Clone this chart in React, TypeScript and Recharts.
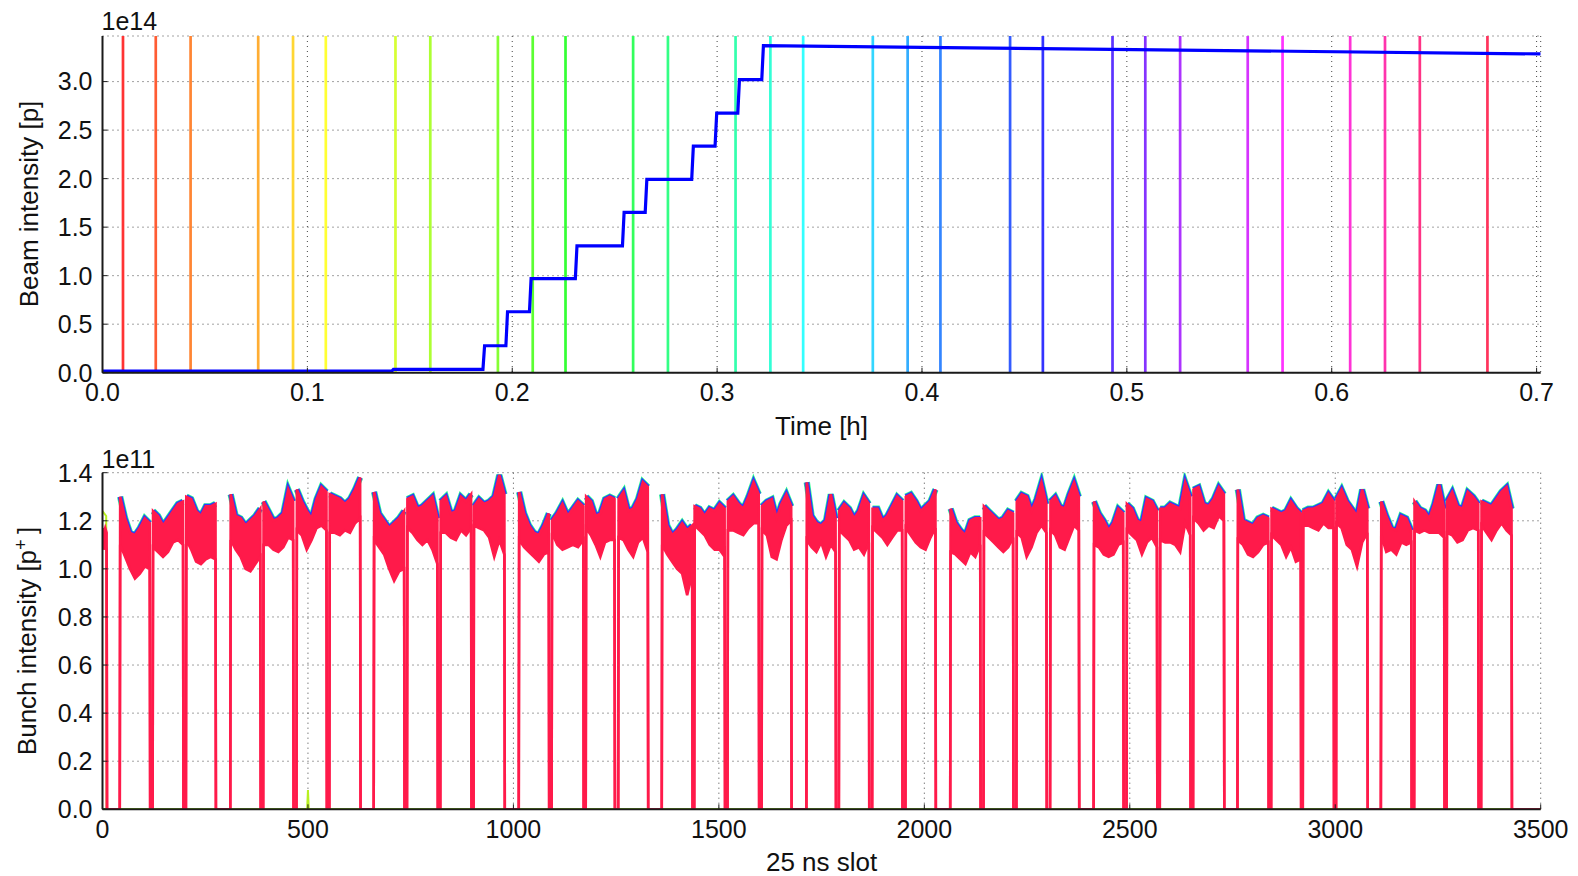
import React from 'react';
import { ComposedChart, Line, Area, XAxis, YAxis, CartesianGrid, ReferenceLine } from 'recharts';

// ---- top panel: beam intensity vs time ----
// times (h) of the bunch-by-bunch snapshots (coloured vertical lines)
const snapshotTimes = [
  0.010, 0.026, 0.043, 0.076, 0.093, 0.109, 0.143, 0.160, 0.193, 0.210,
  0.226, 0.259, 0.276, 0.309, 0.326, 0.342, 0.376, 0.393, 0.409, 0.443,
  0.459, 0.493, 0.509, 0.526, 0.559, 0.576, 0.609, 0.626, 0.643, 0.676,
];

// total beam intensity, units of 1e14 p
const beamTime = [
  0, 0.1412, 0.1420, 0.1857, 0.1865, 0.1969, 0.1977, 0.2084, 0.2092, 0.2308,
  0.2316, 0.2538, 0.2546, 0.2649, 0.2657, 0.2876, 0.2884, 0.2990, 0.2998, 0.3101,
  0.3109, 0.3218, 0.3226, 0.40, 0.47, 0.58, 0.702,
];
const beamIntensity = [
  0.017, 0.017, 0.034, 0.034, 0.278, 0.278, 0.628, 0.628, 0.970, 0.970,
  1.307, 1.307, 1.653, 1.653, 1.992, 1.992, 2.335, 2.335, 2.675, 2.675,
  3.021, 3.021, 3.371, 3.352, 3.337, 3.313, 3.285,
];

const timeTicks = [0, 0.1, 0.2, 0.3, 0.4, 0.5, 0.6, 0.7];
const beamTicks = [0, 0.5, 1.0, 1.5, 2.0, 2.5, 3.0];

// ---- bottom panel: bunch intensity vs 25 ns slot (units of 1e11 p) ----
const trainStart = [
  0, 43, 123, 204, 312, 392, 473, 553, 661, 742,
  823, 904, 1014, 1094, 1177, 1256, 1362, 1441, 1522, 1605,
  1714, 1793, 1874, 1955, 2064, 2145, 2225, 2307, 2413, 2493,
  2574, 2655, 2763, 2845, 2922, 3003, 3112, 3193, 3272, 3356,
];
const trainEnd = [
  10, 115, 196, 275, 384, 464, 545, 627, 734, 815,
  897, 978, 1086, 1170, 1246, 1327, 1435, 1514, 1597, 1676,
  1784, 1865, 1946, 2027, 2136, 2216, 2297, 2376, 2484, 2566,
  2647, 2729, 2837, 2916, 2996, 3078, 3185, 3265, 3348, 3429,
];
// upper and lower envelope of the bunch-to-bunch spread, 7 readings per train
const trainHigh = [
  [1.17, 1.16, 1.15, 1.16, 1.17, 1.16, 1.15],
  [1.30, 1.21, 1.15, 1.14, 1.17, 1.21, 1.19],
  [1.24, 1.22, 1.18, 1.21, 1.24, 1.27, 1.28],
  [1.30, 1.29, 1.24, 1.22, 1.26, 1.26, 1.27],
  [1.31, 1.22, 1.21, 1.18, 1.20, 1.22, 1.25],
  [1.28, 1.24, 1.20, 1.21, 1.23, 1.33, 1.28],
  [1.33, 1.28, 1.24, 1.21, 1.29, 1.34, 1.32],
  [1.31, 1.30, 1.29, 1.27, 1.29, 1.33, 1.38],
  [1.32, 1.23, 1.20, 1.17, 1.19, 1.21, 1.24],
  [1.29, 1.30, 1.25, 1.26, 1.28, 1.30, 1.21],
  [1.28, 1.30, 1.23, 1.24, 1.30, 1.28, 1.31],
  [1.26, 1.29, 1.27, 1.28, 1.30, 1.39, 1.31],
  [1.32, 1.23, 1.18, 1.15, 1.14, 1.18, 1.23],
  [1.20, 1.23, 1.27, 1.22, 1.25, 1.28, 1.26],
  [1.30, 1.28, 1.22, 1.23, 1.29, 1.30, 1.29],
  [1.29, 1.32, 1.24, 1.25, 1.29, 1.36, 1.34],
  [1.31, 1.18, 1.14, 1.16, 1.19, 1.16, 1.18],
  [1.26, 1.25, 1.22, 1.25, 1.24, 1.27, 1.25],
  [1.28, 1.30, 1.27, 1.25, 1.30, 1.36, 1.31],
  [1.26, 1.28, 1.29, 1.21, 1.27, 1.31, 1.26],
  [1.36, 1.22, 1.19, 1.18, 1.20, 1.31, 1.21],
  [1.24, 1.27, 1.25, 1.21, 1.24, 1.30, 1.27],
  [1.25, 1.25, 1.20, 1.22, 1.26, 1.30, 1.28],
  [1.30, 1.31, 1.28, 1.24, 1.26, 1.28, 1.33],
  [1.25, 1.19, 1.16, 1.14, 1.20, 1.21, 1.21],
  [1.26, 1.24, 1.22, 1.20, 1.21, 1.24, 1.23],
  [1.28, 1.31, 1.30, 1.24, 1.29, 1.36, 1.27],
  [1.28, 1.30, 1.26, 1.25, 1.31, 1.36, 1.30],
  [1.28, 1.23, 1.20, 1.16, 1.19, 1.25, 1.23],
  [1.27, 1.25, 1.20, 1.19, 1.29, 1.28, 1.24],
  [1.25, 1.25, 1.27, 1.26, 1.25, 1.36, 1.30],
  [1.33, 1.34, 1.27, 1.26, 1.29, 1.34, 1.31],
  [1.33, 1.20, 1.19, 1.18, 1.21, 1.22, 1.21],
  [1.25, 1.24, 1.23, 1.24, 1.28, 1.25, 1.23],
  [1.24, 1.25, 1.25, 1.26, 1.27, 1.31, 1.28],
  [1.29, 1.33, 1.28, 1.25, 1.22, 1.33, 1.25],
  [1.28, 1.22, 1.17, 1.16, 1.22, 1.21, 1.16],
  [1.28, 1.25, 1.24, 1.21, 1.27, 1.35, 1.25],
  [1.28, 1.32, 1.26, 1.25, 1.32, 1.30, 1.27],
  [1.28, 1.27, 1.26, 1.29, 1.32, 1.34, 1.25],
];
const trainLow = [
  [1.09, 1.10, 1.08, 1.09, 1.10, 1.09, 1.08],
  [1.10, 1.05, 1.00, 0.96, 0.98, 1.01, 1.00],
  [1.09, 1.07, 1.05, 1.07, 1.11, 1.12, 1.10],
  [1.12, 1.08, 1.03, 1.02, 1.04, 1.05, 1.04],
  [1.12, 1.08, 1.05, 1.00, 0.99, 1.02, 1.05],
  [1.10, 1.10, 1.08, 1.07, 1.09, 1.13, 1.12],
  [1.16, 1.14, 1.08, 1.12, 1.17, 1.18, 1.16],
  [1.15, 1.15, 1.14, 1.16, 1.15, 1.19, 1.21],
  [1.12, 1.09, 1.06, 1.00, 0.95, 0.99, 1.00],
  [1.17, 1.15, 1.12, 1.10, 1.12, 1.08, 1.02],
  [1.15, 1.15, 1.13, 1.12, 1.16, 1.14, 1.17],
  [1.18, 1.17, 1.16, 1.13, 1.05, 1.12, 1.06],
  [1.12, 1.09, 1.07, 1.05, 1.03, 1.06, 1.07],
  [1.15, 1.10, 1.08, 1.09, 1.10, 1.09, 1.12],
  [1.17, 1.14, 1.10, 1.05, 1.11, 1.12, 1.12],
  [1.13, 1.12, 1.08, 1.05, 1.11, 1.13, 1.07],
  [1.10, 1.06, 1.03, 1.00, 0.98, 0.89, 0.98],
  [1.18, 1.16, 1.14, 1.10, 1.08, 1.08, 1.05],
  [1.16, 1.16, 1.15, 1.14, 1.17, 1.19, 1.19],
  [1.16, 1.14, 1.05, 1.04, 1.12, 1.18, 1.20],
  [1.12, 1.09, 1.07, 1.11, 1.05, 1.10, 1.07],
  [1.16, 1.14, 1.12, 1.08, 1.09, 1.06, 1.11],
  [1.17, 1.15, 1.13, 1.10, 1.13, 1.16, 1.16],
  [1.17, 1.14, 1.11, 1.09, 1.08, 1.13, 1.17],
  [1.07, 1.06, 1.04, 1.02, 1.07, 1.05, 1.10],
  [1.15, 1.13, 1.11, 1.09, 1.07, 1.09, 1.13],
  [1.15, 1.13, 1.05, 1.09, 1.15, 1.18, 1.15],
  [1.16, 1.14, 1.09, 1.08, 1.13, 1.18, 1.16],
  [1.10, 1.09, 1.06, 1.05, 1.06, 1.10, 1.11],
  [1.16, 1.14, 1.12, 1.06, 1.11, 1.13, 1.09],
  [1.12, 1.11, 1.11, 1.10, 1.07, 1.19, 1.14],
  [1.21, 1.19, 1.16, 1.18, 1.17, 1.22, 1.20],
  [1.12, 1.10, 1.06, 1.05, 1.07, 1.10, 1.11],
  [1.14, 1.12, 1.10, 1.05, 1.09, 1.03, 1.04],
  [1.18, 1.18, 1.17, 1.16, 1.19, 1.17, 1.17],
  [1.19, 1.17, 1.10, 1.08, 1.01, 1.11, 1.15],
  [1.14, 1.07, 1.08, 1.06, 1.11, 1.10, 1.11],
  [1.16, 1.15, 1.16, 1.15, 1.15, 1.15, 1.13],
  [1.15, 1.14, 1.11, 1.12, 1.16, 1.17, 1.16],
  [1.18, 1.15, 1.12, 1.16, 1.19, 1.16, 1.14],
];

// early snapshots: pilot bunch at the start, small spike near slot 500
const earlySlot = [0, 9, 10, 498, 500, 502, 3500];
const earlyValue = [1.24, 1.22, 0, 0, 0.08, 0, 0];

const slotTicks = [0, 500, 1000, 1500, 2000, 2500, 3000, 3500];
const bunchTicks = [0, 0.2, 0.4, 0.6, 0.8, 1.0, 1.2, 1.4];

// ---- build series ----
const beamData = beamTime.map((t, i) => ({ t, intensity: beamIntensity[i] }));

const sampleSlot = (i: number, k: number) =>
  trainStart[i] + (k * (trainEnd[i] - trainStart[i])) / (trainHigh[i].length - 1);

// final snapshot: band between lower and upper envelope, zero in the gaps
const bunchBand: { slot: number; band: [number, number] }[] = [];
trainStart.forEach((s, i) => {
  if (s > 0) bunchBand.push({ slot: s - 1, band: [0, 0] });
  trainHigh[i].forEach((h, k) => {
    bunchBand.push({ slot: sampleSlot(i, k), band: [trainLow[i][k], h] });
  });
  bunchBand.push({ slot: trainEnd[i] + 1, band: [0, 0] });
});
bunchBand.push({ slot: 3500, band: [0, 0] });

// top edge of each train only (earlier snapshots peek out above it)
const bunchTop: { slot: number; v: number | null }[] = [];
trainStart.forEach((s, i) => {
  if (i === 0) return;
  trainHigh[i].forEach((h, k) => bunchTop.push({ slot: sampleSlot(i, k), v: h }));
  bunchTop.push({ slot: trainEnd[i] + 0.5, v: null });
});

const earlyData = earlySlot.map((slot, i) => ({ slot, v: earlyValue[i] }));
const baseData = [{ slot: 0, v: 0 }, { slot: 3500, v: 0 }];

// ---- styling ----
const FONT = '"Liberation Sans", Arial, Helvetica, sans-serif';
const TICK = { fontSize: 25, fill: '#111', fontFamily: FONT };
const FRAME = { stroke: '#1a1a1a', strokeWidth: 2 };
const TICKLINE = { stroke: '#1a1a1a', strokeWidth: 1 };
const GRID = { stroke: '#444', strokeWidth: 1, strokeDasharray: '1 4' };
const RED = '#ff1a4a';
const W = 1578;
const snapshotColor = (i: number) => `hsl(${(i * 360) / snapshotTimes.length}, 100%, 60%)`;
const flat = { dot: false, activeDot: false, isAnimationActive: false } as const;

function TopPanel() {
  return (
    <ComposedChart width={W} height={440} data={beamData} margin={{ top: 36, right: 37.3, bottom: 27.3, left: 2.5 }}>
      <CartesianGrid {...GRID} />
      <XAxis dataKey="t" type="number" domain={[0, 0.702]} ticks={timeTicks} allowDataOverflow
        tickFormatter={(v: number) => v.toFixed(1)} height={40} tick={TICK}
        tickSize={-5} tickMargin={16} axisLine={FRAME} tickLine={TICKLINE} />
      <XAxis xAxisId="top" orientation="top" type="number" domain={[0, 0.702]} ticks={timeTicks} allowDataOverflow
        height={0} tick={false} tickSize={-5} axisLine={FRAME} tickLine={TICKLINE} />
      <YAxis type="number" domain={[0, 3.47]} ticks={beamTicks} allowDataOverflow
        tickFormatter={(v: number) => v.toFixed(1)} width={100} tick={TICK}
        tickSize={-5} tickMargin={15} axisLine={FRAME} tickLine={TICKLINE} />
      <YAxis yAxisId="right" orientation="right" type="number" domain={[0, 3.47]} ticks={beamTicks} allowDataOverflow
        width={0} tick={false} tickSize={-5} axisLine={FRAME} tickLine={TICKLINE} />
      {snapshotTimes.map((t, i) => (
        <ReferenceLine key={t} x={t} stroke={snapshotColor(i)} strokeWidth={2.7} />
      ))}
      <Line dataKey="intensity" type="linear" stroke="#0000ff" strokeWidth={3.2} {...flat} />
    </ComposedChart>
  );
}

function BottomPanel() {
  return (
    <ComposedChart width={W} height={436} margin={{ top: 32.7, right: 37.3, bottom: 26.7, left: 2.5 }}>
      <CartesianGrid {...GRID} />
      <XAxis dataKey="slot" type="number" domain={[0, 3500]} ticks={slotTicks} allowDataOverflow
        height={40} tick={TICK} tickSize={-5} tickMargin={16} axisLine={FRAME} tickLine={TICKLINE} />
      <XAxis xAxisId="top" orientation="top" type="number" domain={[0, 3500]} ticks={slotTicks} allowDataOverflow
        height={0} tick={false} tickSize={-5} axisLine={FRAME} tickLine={TICKLINE} />
      <YAxis type="number" domain={[0, 1.4]} ticks={bunchTicks} allowDataOverflow
        tickFormatter={(v: number) => v.toFixed(1)} width={100} tick={TICK}
        tickSize={-5} tickMargin={15} axisLine={FRAME} tickLine={TICKLINE} />
      <YAxis yAxisId="right" orientation="right" type="number" domain={[0, 1.4]} ticks={bunchTicks} allowDataOverflow
        width={0} tick={false} tickSize={-5} axisLine={FRAME} tickLine={TICKLINE} />
      <Area data={baseData} dataKey="v" type="linear" stroke="#44ee22" strokeWidth={2.5} fill="none" {...flat} />
      <Area data={earlyData} dataKey="v" type="linear" stroke="#b8f020" strokeWidth={2} fill="none" {...flat} />
      <Area data={bunchTop} dataKey="v" type="linear" stroke="#30ff90" strokeWidth={6.4} fill="none" {...flat} />
      <Area data={bunchTop} dataKey="v" type="linear" stroke="#2a3cff" strokeWidth={5} fill="none" {...flat} />
      <Area data={bunchBand} dataKey="band" type="linear" stroke={RED} strokeWidth={2.6} fill={RED}
        fillOpacity={1} {...flat} />
    </ComposedChart>
  );
}

const textBase: React.CSSProperties = { position: 'absolute', whiteSpace: 'nowrap', color: '#111' };

function VLabel({ cx, cy, children }: { cx: number; cy: number; children: React.ReactNode }) {
  return (
    <div style={{ ...textBase, left: cx, top: cy, fontSize: 26, lineHeight: '30px',
      transform: 'translate(-50%, -50%) rotate(-90deg)' }}>
      {children}
    </div>
  );
}

export default function App() {
  return (
    <div style={{ position: 'absolute', left: 0, top: 0, width: W, height: 876, background: '#fff',
      fontFamily: FONT, overflow: 'hidden' }}>
      <div style={{ position: 'absolute', left: 0, top: 0 }}>
        <TopPanel />
      </div>
      <div style={{ position: 'absolute', left: 0, top: 440 }}>
        <BottomPanel />
      </div>

      <div style={{ ...textBase, left: 101.5, top: 5.8, fontSize: 25, lineHeight: '30px' }}>1e14</div>
      <VLabel cx={29.2} cy={204.2}>Beam intensity [p]</VLabel>
      <div style={{ ...textBase, left: 621.6, width: 400, textAlign: 'center', top: 411.3, fontSize: 26, lineHeight: '30px' }}>
        Time [h]
      </div>

      <div style={{ ...textBase, left: 101.5, top: 443.8, fontSize: 25, lineHeight: '30px' }}>1e11</div>
      <VLabel cx={26.7} cy={641}>
        Bunch intensity [p
        <sup style={{ fontSize: '0.7em', verticalAlign: '0.5em', lineHeight: 0 }}>+</sup>
        {'\u2009]'}
      </VLabel>
      <div style={{ ...textBase, left: 621.6, width: 400, textAlign: 'center', top: 849, fontSize: 26, lineHeight: '26px' }}>
        25 ns slot
      </div>
    </div>
  );
}
